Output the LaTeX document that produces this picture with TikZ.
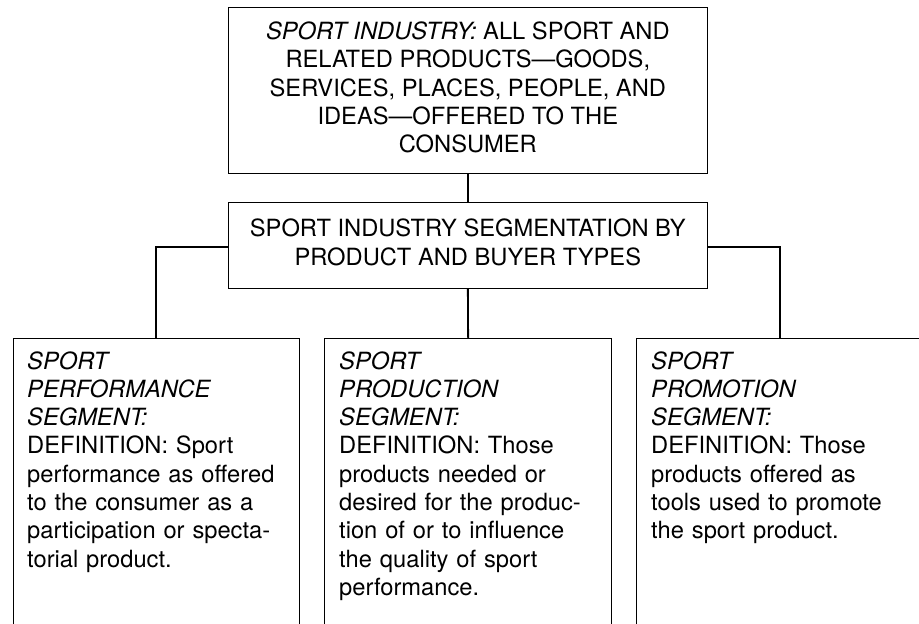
\documentclass[tikz,border=0pt]{standalone}
\usepackage{fontspec}
\setmainfont{TeX Gyre Heros}
\begin{document}
\begin{tikzpicture}[x=1pt,y=-1pt,
  box/.style={draw=black,line width=1pt,inner sep=0pt,fill=none},
  link/.style={draw=black,line width=1.8pt},
  label/.style={inner sep=0pt,font=\fontsize{23.7}{28.3}\selectfont},
  seglabel/.style={label,text width=270pt,align=left,anchor=base west}]
\useasboundingbox (0,0) rectangle (919,624);
\clip (0,0) rectangle (919,624);

% headline box and the segmentation box beneath it
\node[box,minimum width=478.3pt,minimum height=166.4pt] (industry) at (467.85,90.5) {};
\node[label,align=center,anchor=base] (industrytxt) at (467.85,152.7)
  {\textit{SPORT INDUSTRY:} ALL SPORT AND\\
   RELATED PRODUCTS---GOODS,\\
   SERVICES, PLACES, PEOPLE, AND\\
   IDEAS---OFFERED TO THE\\
   CONSUMER};

\node[box,minimum width=478.3pt,minimum height=86.7pt] (segm) at (467.85,245.35) {};
\node[label,align=center,anchor=base] (segmtxt) at (467.85,265)
  {SPORT INDUSTRY SEGMENTATION BY\\
   PRODUCT AND BUYER TYPES};

% the three segment boxes run past the lower edge
\node[box,minimum width=286.3pt,minimum height=312pt,anchor=north west] (perf) at (12.7,338) {};
\node[box,minimum width=286.7pt,minimum height=312pt,anchor=north west] (prod) at (324.3,338) {};
\node[box,minimum width=286.8pt,minimum height=312pt,anchor=north west] (promo) at (636.3,338) {};

\node[seglabel] (perftxt) at (27,369)
  {\textit{SPORT}\\
   \textit{PERFORMANCE}\\
   \textit{SEGMENT:}\\
   DEFINITION: Sport\\
   performance as offered\\
   to the consumer as a\\
   participation or specta-\\
   torial product.};
\node[seglabel] (prodtxt) at (339,369)
  {\textit{SPORT}\\
   \textit{PRODUCTION}\\
   \textit{SEGMENT:}\\
   DEFINITION: Those\\
   products needed or\\
   desired for the produc-\\
   tion of or to influence\\
   the quality of sport\\
   performance.};
\node[seglabel] (promotxt) at (651,369)
  {\textit{SPORT}\\
   \textit{PROMOTION}\\
   \textit{SEGMENT:}\\
   DEFINITION: Those\\
   products offered as\\
   tools used to promote\\
   the sport product.};

% connectors
\draw[link] (industry.south) -- (segm.north);
\draw[link] (segm.south) -- (prod.north);
\draw[link] ([yshift=-1.3pt]segm.west) -| (perf.north);
\draw[link] ([yshift=-1.3pt]segm.east) -| (promo.north);
\end{tikzpicture}
\end{document}
